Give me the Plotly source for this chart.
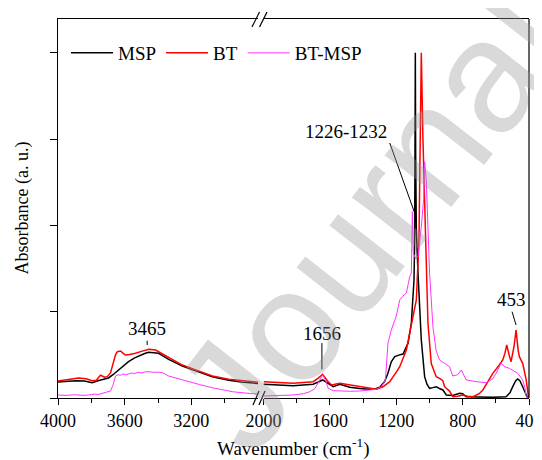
import plotly.graph_objects as go

# ---------------- data (wavenumber cm-1, absorbance a.u.) ----------------
# left segment 4000-2800
MSP_L_wn = [4000, 3950, 3895, 3840, 3795, 3750, 3697, 3670, 3637, 3600, 3577, 3540, 3517, 3480,
            3456, 3420, 3396, 3336, 3300, 3254, 3174, 3074, 2976, 2900, 2800]
MSP_L_ab = [0.185, 0.192, 0.200, 0.197, 0.177, 0.205, 0.232, 0.27, 0.324, 0.39, 0.421, 0.465, 0.487, 0.515,
            0.530, 0.527, 0.518, 0.448, 0.41, 0.371, 0.316, 0.247, 0.205, 0.185, 0.168]

BT_L_wn = [4000, 3940, 3877, 3830, 3795, 3770, 3745, 3720, 3705, 3685, 3674, 3655, 3644, 3625, 3610,
           3595, 3570, 3535, 3500, 3455, 3414, 3380, 3336, 3254, 3174, 3074, 2976, 2900, 2800]
BT_L_ab = [0.197, 0.215, 0.232, 0.222, 0.200, 0.205, 0.263, 0.24, 0.247, 0.29, 0.363, 0.50, 0.537, 0.545, 0.52,
           0.498, 0.505, 0.518, 0.54, 0.564, 0.556, 0.52, 0.467, 0.382, 0.324, 0.255, 0.217, 0.20, 0.182]

MAG_L_wn = [4000, 3950, 3900, 3850, 3817, 3780, 3760, 3735, 3700, 3685, 3670, 3660, 3655, 3640, 3625,
            3610, 3595, 3577, 3560, 3540, 3520, 3500, 3480, 3455, 3430, 3400, 3374, 3360, 3336, 3280,
            3216, 3150, 3074, 3000, 2954, 2880, 2800]
MAG_L_ab = [0.035, 0.030, 0.038, 0.030, 0.035, 0.045, 0.040, 0.054, 0.070, 0.081, 0.15, 0.24, 0.255, 0.27, 0.262,
            0.28, 0.27, 0.278, 0.29, 0.283, 0.298, 0.29, 0.302, 0.305, 0.298, 0.30, 0.293, 0.28, 0.255, 0.225,
            0.189, 0.155, 0.119, 0.09, 0.073, 0.058, 0.046]

# right segment 2000-400
MSP_R_wn = [2000, 1900, 1821, 1760, 1701, 1670, 1644, 1620, 1580, 1540, 1510, 1480, 1420, 1360, 1320,
            1299, 1270, 1250, 1230, 1209, 1180, 1159, 1139, 1129, 1109, 1093, 1089, 1087, 1085, 1083,
            1079, 1069, 1049, 1029, 1015, 999, 980, 959, 940, 919, 898, 860, 818, 800, 778, 700, 618,
            538, 515, 498, 480, 468, 455, 438, 420, 408, 400]
MSP_R_ab = [0.159, 0.152, 0.143, 0.150, 0.159, 0.185, 0.209, 0.18, 0.131, 0.159, 0.14, 0.124, 0.11, 0.101, 0.11,
            0.124, 0.19, 0.286, 0.42, 0.479, 0.50, 0.510, 0.594, 0.634, 0.869, 1.37, 1.831, 2.84, 4.0, 2.84,
            1.95, 1.448, 0.672, 0.247, 0.16, 0.112, 0.12, 0.131, 0.11, 0.093, 0.035, 0.03, 0.054, 0.05, 0.015, 0.01, 0.008,
            0.015, 0.06, 0.131, 0.20, 0.220, 0.20, 0.131, 0.05, 0.0, 0.0]

BT_R_wn = [2000, 1900, 1821, 1760, 1701, 1670, 1644, 1615, 1590, 1540, 1480, 1420, 1360, 1319, 1280,
           1239, 1200, 1179, 1139, 1099, 1079, 1063, 1055, 1049, 1039, 1023, 1009, 989, 970, 959, 939,
           919, 909, 879, 859, 830, 799, 770, 738, 700, 678, 650, 618, 580, 558, 545, 534, 520, 508,
           490, 478, 465, 458, 438, 417, 402, 400]
BT_R_ab = [0.189, 0.18, 0.170, 0.18, 0.189, 0.23, 0.275, 0.20, 0.151, 0.170, 0.15, 0.131, 0.115, 0.101, 0.13,
           0.189, 0.30, 0.363, 0.556, 0.942, 1.136, 1.831, 2.99, 4.0, 2.99, 1.831, 0.869, 0.40, 0.30, 0.247, 0.228,
           0.20, 0.131, 0.08, 0.015, 0.02, 0.035, 0.02, 0.015, 0.05, 0.093, 0.18, 0.286, 0.38, 0.44, 0.52, 0.614, 0.50, 0.421,
           0.60, 0.788, 0.55, 0.479, 0.402, 0.209, 0.0, 0.0]

MAG_R_wn = [2000, 1900, 1821, 1760, 1720, 1690, 1665, 1644, 1625, 1610, 1580, 1540, 1480, 1420, 1360,
            1319, 1290, 1265, 1250, 1230, 1200, 1179, 1160, 1139, 1119, 1109, 1103, 1097, 1085, 1069,
            1049, 1035, 1029, 1019, 999, 979, 960, 949, 939, 909, 879, 860, 830, 808, 790, 778, 720,
            658, 620, 598, 568, 545, 518, 490, 468, 438, 425, 417, 400]
MAG_R_ab = [0.023, 0.03, 0.035, 0.05, 0.073, 0.11, 0.20, 0.267, 0.20, 0.112, 0.085, 0.081, 0.078, 0.081, 0.09,
            0.101, 0.13, 0.209, 0.634, 0.788, 0.95, 1.136, 1.18, 1.217, 1.406, 1.448, 2.159, 1.680, 1.62, 1.637,
            1.985, 2.3, 2.738, 2.526, 1.448, 0.826, 0.55, 0.479, 0.440, 0.402, 0.363, 0.255, 0.27, 0.324, 0.25, 0.209, 0.19,
            0.177, 0.22, 0.286, 0.402, 0.36, 0.344, 0.31, 0.286, 0.209, 0.12, 0.015, 0.0]

LEFT_TICKS = [4000, 3600, 3200]
LEFT_MINOR = [3800, 3400, 3000]
RIGHT_TICKS = [2000, 1600, 1200, 800, 400]
RIGHT_MINOR = [1800, 1400, 1000, 600]

SERIES = [
    ("MSP", "#000000", 1.5, MSP_L_wn, MSP_L_ab, MSP_R_wn, MSP_R_ab),
    ("BT", "#ff0000", 1.5, BT_L_wn, BT_L_ab, BT_R_wn, BT_R_ab),
    ("BT-MSP", "#ff33ff", 1.0, MAG_L_wn, MAG_L_ab, MAG_R_wn, MAG_R_ab),
]

FONT = "Liberation Serif, Times New Roman, serif"

fig = go.Figure()
for name, col, w, xl, yl, xr, yr in SERIES:
    fig.add_trace(go.Scatter(x=xl, y=yl, xaxis="x", yaxis="y", mode="lines", name=name,
                             legendgroup=name, line=dict(color=col, width=w)))
    fig.add_trace(go.Scatter(x=xr, y=yr, xaxis="x2", yaxis="y", mode="lines", name=name,
                             legendgroup=name, showlegend=False, line=dict(color=col, width=w)))

# the page body adds an 8px offset; the figure is sized so it fills the 542x460 window
OFF = 8
W, H = 542 - OFF, 460 - OFF
ML, MR, MT, MB = 50, 13, 11, 62
PW = W - ML - MR
PH = H - MT - MB


def px(xp):  # window pixel -> paper x
    return (xp - OFF - ML) / PW


def py(yp):  # window pixel -> paper y
    return (H - MB - (yp - OFF)) / PH


d1 = px(258)
d2 = px(263.5)

axis_common = dict(showline=True, linecolor="black", linewidth=1.2, mirror=True,
                   ticks="outside", ticklen=6, tickwidth=1.2, tickcolor="black",
                   showgrid=False, zeroline=False, ticklabeloverflow="allow", automargin=False,
                   tickfont=dict(family=FONT, size=18, color="black"))

fig.update_layout(
    width=W, height=H,
    margin=dict(l=ML, r=MR, t=MT, b=MB, autoexpand=False),
    paper_bgcolor="white", plot_bgcolor="white",
    xaxis=dict(domain=[0, d1], range=[4000, 2800], tickmode="array", tickvals=LEFT_TICKS,
               minor=dict(tickvals=LEFT_MINOR, ticks="outside", ticklen=4, tickcolor="black"),
               anchor="y", **axis_common),
    xaxis2=dict(domain=[d2, 1], range=[2000, 400], tickmode="array", tickvals=RIGHT_TICKS,
                minor=dict(tickvals=RIGHT_MINOR, ticks="outside", ticklen=4, tickcolor="black"),
                anchor="y", **axis_common),
    yaxis=dict(range=[0, 4.392], tickmode="array", tickvals=[0, 1, 2, 3, 4], showticklabels=False,
               showline=True, linecolor="black", linewidth=1.2, mirror=False, automargin=False,
               ticks="outside", ticklen=7, tickwidth=1.2, tickcolor="black",
               showgrid=False, zeroline=False, anchor="x"),
    showlegend=True,
    legend=dict(orientation="h", x=px(66), y=py(53), xanchor="left", yanchor="middle",
                bgcolor="rgba(0,0,0,0)", font=dict(family=FONT, size=19, color="black"),
                itemwidth=42, tracegroupgap=0),
)

shapes = []
# right frame line
shapes.append(dict(type="line", xref="paper", yref="paper", x0=1, x1=1, y0=0, y1=1,
                   line=dict(color="black", width=1.2)))
# break marks (bottom and top)
for (x0, y0, x1, y1) in [(253, 405, 259, 391), (259, 405, 265, 391),
                         (252, 27, 259.5, 12), (259.5, 27, 267, 12)]:
    shapes.append(dict(type="line", xref="paper", yref="paper", x0=px(x0), y0=py(y0), x1=px(x1), y1=py(y1),
                       line=dict(color="black", width=1.2)))
# leader lines of the peak labels
shapes.append(dict(type="line", xref="x", yref="y", x0=3465, x1=3465, y0=0.614, y1=0.664,
                   line=dict(color="black", width=1)))
shapes.append(dict(type="line", xref="x2", yref="y", x0=1648, x1=1648, y0=0.33, y1=0.637,
                   line=dict(color="black", width=1)))
shapes.append(dict(type="line", xref="x2", yref="y", x0=1239, x1=1089, y0=2.955, y1=2.144,
                   line=dict(color="black", width=1)))
shapes.append(dict(type="line", xref="x2", yref="y", x0=502, x1=478, y0=1.0, y1=0.846,
                   line=dict(color="black", width=1)))
fig.update_layout(shapes=shapes)

ann = [
    dict(text="3465", xref="x", yref="y", x=3465, y=0.80),
    dict(text="1656", xref="x2", yref="y", x=1648, y=0.742),
    dict(text="1226-1232", xref="x2", yref="y", x=1501, y=3.094),
    dict(text="453", xref="x2", yref="y", x=508, y=1.136),
]
for a in ann:
    a.update(showarrow=False, xanchor="center", yanchor="middle",
             font=dict(family=FONT, size=19, color="black"))

ann.append(dict(text="Wavenumber (cm<sup>-1</sup>)", xref="paper", yref="paper", x=0.5, y=py(447),
                showarrow=False, xanchor="center", yanchor="middle",
                font=dict(family=FONT, size=19, color="black")))
ann.append(dict(text="Absorbance (a. u.)", xref="paper", yref="paper", x=px(22), y=0.5, textangle=-90,
                showarrow=False, xanchor="center", yanchor="middle",
                font=dict(family=FONT, size=18, color="black")))
# watermark
ann.append(dict(text="Journal", xref="paper", yref="paper", x=px(370), y=py(220), textangle=-52,
                showarrow=False, xanchor="center", yanchor="middle",
                font=dict(family="Liberation Sans, Arial, sans-serif", size=160, color="rgba(150,150,150,0.36)")))
fig.update_layout(annotations=ann)

fig.write_html("out.html")
